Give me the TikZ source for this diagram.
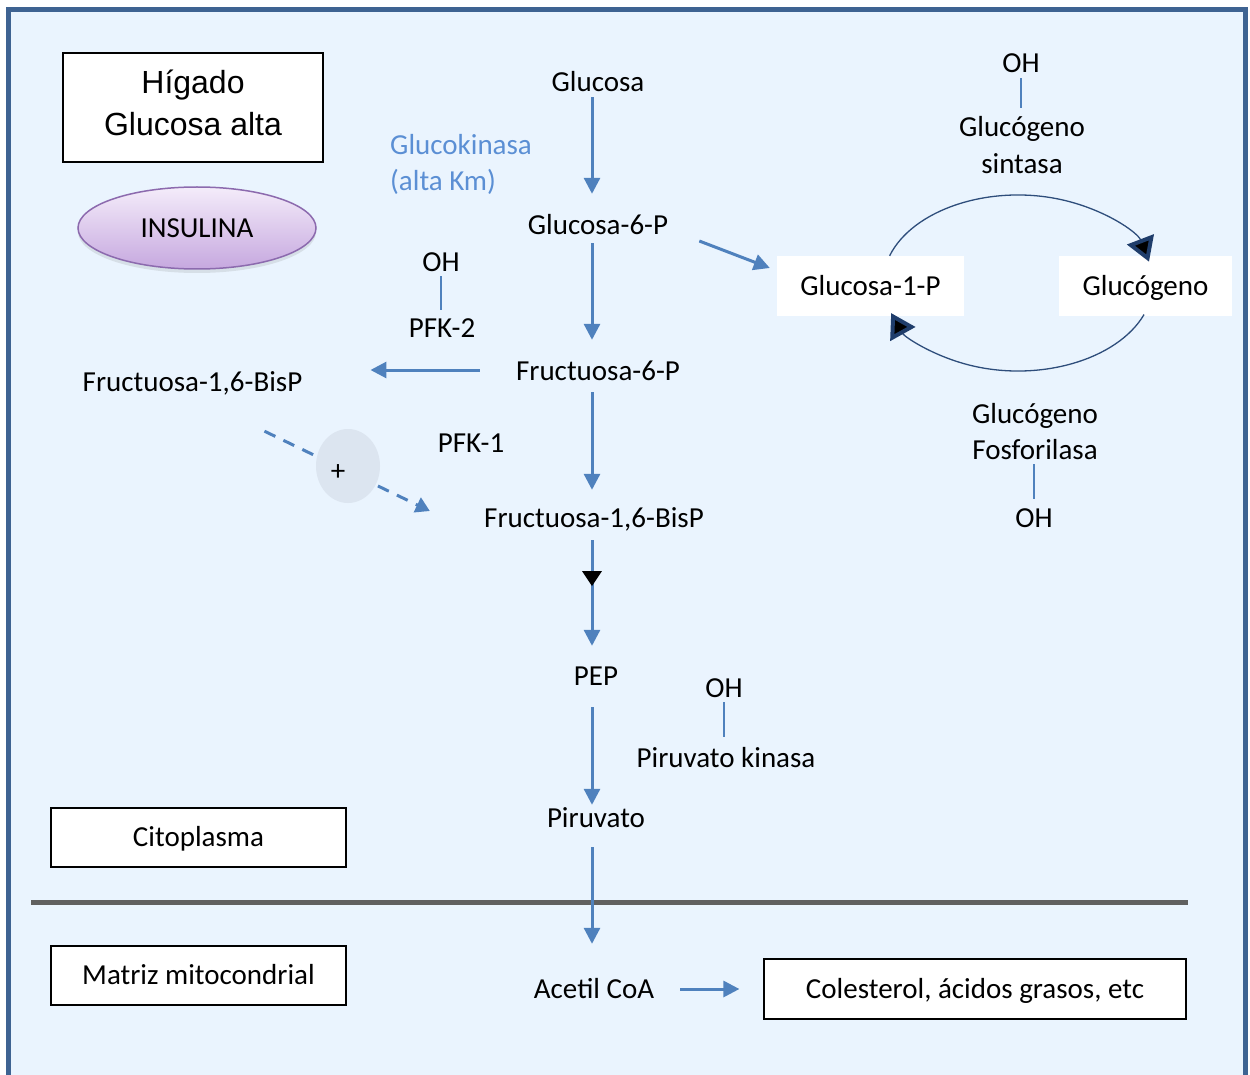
\documentclass[tikz,border=0pt]{standalone}
\usepackage{fontspec}
\setmainfont{Carlito}
\newfontfamily\arialf{Liberation Sans}
\usetikzlibrary{arrows.meta,shapes.geometric,shadows,decorations.markings}
\definecolor{bgc}{HTML}{EAF4FE}
\definecolor{framec}{HTML}{3E6392}
\definecolor{arrc}{HTML}{4F81BD}
\definecolor{kinc}{HTML}{5B8FD4}
\definecolor{cycc}{HTML}{2E4D7B}
\definecolor{navyc}{HTML}{1F3D6B}
\definecolor{divc}{HTML}{606060}
\definecolor{plusc}{HTML}{DCE5F0}
\definecolor{insT}{HTML}{F4ECFA}
\definecolor{insB}{HTML}{C6A8DF}
\definecolor{insD}{HTML}{8C6AAE}
\begin{document}
\begin{tikzpicture}[x=1pt,y=-1pt,
  lbl/.style={inner sep=0pt, text height=18.7pt, text depth=0pt, font=\fontsize{29}{35}\selectfont},
  arl/.style={inner sep=0pt, text height=22.9pt, text depth=0pt, font=\arialf\fontsize{32}{38}\selectfont},
  box/.style={draw=black, line width=1.2pt, fill=white},
  wbox/.style={fill=white},
  arr/.style={draw=arrc, line width=3pt, -{Triangle[width=16pt,length=16pt]}},
  ohl/.style={draw=arrc, line width=1.6pt},
  cyc/.style={draw=cycc, line width=1.3pt, -{Triangle[width=28pt,length=24pt,line width=4pt,color=navyc,fill=black]}},
]
\useasboundingbox (0,0) rectangle (1250,1075);
\clip (0,0) rectangle (1250,1075);
\fill[white] (0,0) rectangle (1250,1075);
\draw[framec, line width=5pt, fill=bgc] (8,9.5) rectangle (1245,1200);

% left boxes
\node[box, minimum width=260pt, minimum height=109pt] (hig) at (193,107.5) {};
\node[arl] (hig1) at (193,82) {Hígado};
\node[arl] (hig2) at (193,124) {Glucosa alta};
\node[ellipse, draw=insD, line width=1.5pt, top color=insT, bottom color=insB,
      minimum width=238pt, minimum height=82pt, inner sep=0pt,
      text height=18.7pt, text depth=0pt, font=\fontsize{29}{35}\selectfont,
      drop shadow={shadow xshift=0pt, shadow yshift=-4pt, opacity=0.18, fill=gray}] (ins) at (197,228) {INSULINA};
\node[box, lbl, minimum width=295pt, minimum height=59pt] (cit) at (198.5,837.5) {Citoplasma};
\node[box, lbl, minimum width=295pt, minimum height=59pt] (mat) at (198.5,975.5) {Matriz mitocondrial};
\node[box, lbl, minimum width=422pt, minimum height=60pt] (col) at (975,989) {Colesterol, ácidos grasos, etc};

\draw[divc, line width=5pt] (31,902) -- (1188,902);

% main pathway
\node[lbl] (glc) at (598,82) {Glucosa};
\node[lbl, anchor=west, text=kinc] (gk1) at (390,145) {Glucokinasa};
\node[lbl, anchor=west, text=kinc] (gk2) at (390,181) {(alta Km)};
\node[lbl] (g6p) at (598,225) {Glucosa-6-P};
\node[lbl] (oh2) at (441,262) {OH};
\node[lbl] (pfk2) at (442,328) {PFK-2};
\node[lbl] (f6p) at (598,371) {Fructuosa-6-P};
\node[lbl] (f16l) at (192.5,382) {Fructuosa-1,6-BisP};
\node[lbl] (pfk1) at (471,443) {PFK-1};
\node[lbl] (f16) at (594,518) {Fructuosa-1,6-BisP};
\node[lbl] (pep) at (596,676) {PEP};
\node[lbl] (oh3) at (724,688) {OH};
\node[lbl] (pk) at (726,758) {Piruvato kinasa};
\node[lbl] (pir) at (596,818) {Piruvato};
\node[lbl] (acoa) at (594,989) {Acetil CoA};

% glycogen side
\node[wbox, lbl, minimum width=187pt, minimum height=60pt] (g1p) at (870.5,286) {Glucosa-1-P};
\node[wbox, lbl, minimum width=173pt, minimum height=60pt] (glg) at (1145.5,286) {Glucógeno};
\node[lbl] (oh1) at (1021,63) {OH};
\node[lbl] (gs1) at (1022,127) {Glucógeno};
\node[lbl] (gs2) at (1022,164) {sintasa};
\node[lbl] (gf1) at (1035,414) {Glucógeno};
\node[lbl] (gf2) at (1035,450) {Fosforilasa};
\node[lbl] (oh4) at (1034,518) {OH};

% arrows
\draw[arr] ([xshift=-6pt,yshift=-5.65pt]glc.south) -- ([xshift=-6pt,yshift=21.65pt]g6p.north);
\draw[arr] ([xshift=-6pt,yshift=-8.65pt]g6p.south) -- ([xshift=-6pt,yshift=21.65pt]f6p.north);
\draw[arr] ([xshift=-6pt,yshift=-11.65pt]f6p.south) -- ([xshift=-2pt,yshift=18.65pt]f16.north);
\draw[arr, postaction={decorate, decoration={markings, mark=at position 46pt with {\arrow{Triangle[width=19pt,length=15pt,black]}}}}]
  ([xshift=-2pt,yshift=-12.65pt]f16.south) -- ([xshift=-4pt,yshift=20.65pt]pep.north);
\draw[arr] ([xshift=-4pt,yshift=-21.65pt]pep.south) -- ([xshift=-4pt,yshift=3.65pt]pir.north);
\draw[arr] ([xshift=-4pt,yshift=-19.65pt]pir.south) -- ([xshift=-2pt,yshift=35.65pt]acoa.north);
\draw[arr] ([xshift=26pt]acoa.east) -- ([xshift=-24pt]col.west);
\draw[arr] ([xshift=31pt,yshift=-16pt]g6p.east) -- ([xshift=-7pt,yshift=18pt]g1p.west);
\draw[arr] ([xshift=-36pt,yshift=1pt]f6p.west) -- ([xshift=68pt,yshift=12pt]f16l.east);

% dashed activation
\draw[arrc, line width=3pt, dash pattern=on 12pt off 9pt, -{Triangle[width=16pt,length=14pt]}]
  ([xshift=72pt,yshift=-39.65pt]f16l.south) -- ([xshift=-54.2pt,yshift=7pt]f16.west);
\node[ellipse, fill=plusc, minimum width=64pt, minimum height=74pt, inner sep=0pt] (plus) at (348,466) {};
\node[lbl] (plust) at (338,471) {+};

% OH lines
\draw[ohl, shorten <=4.65pt, shorten >=8.65pt] (oh2.south) -- (oh2.south |- pfk2.north);
\draw[ohl, shorten <=4.65pt, shorten >=11.65pt] (oh3.south) -- (oh3.south |- pk.north);
\draw[ohl, shorten <=5.65pt, shorten >=9.65pt] (oh1.south) -- (oh1.south |- gs1.north);
\draw[ohl, shorten <=4.65pt, shorten >=9.65pt] (oh4.north |- gf2.south) -- (oh4.north);

% cycle
\coordinate (cy) at (1018,283);
\draw[cyc] (cy) ++(-162:135 and 88) arc[start angle=-162, end angle=-14, x radius=135, y radius=88];
\draw[cyc] (cy) ++(21:135 and 88) arc[start angle=21, end angle=160, x radius=135, y radius=88];
\end{tikzpicture}
\end{document}
